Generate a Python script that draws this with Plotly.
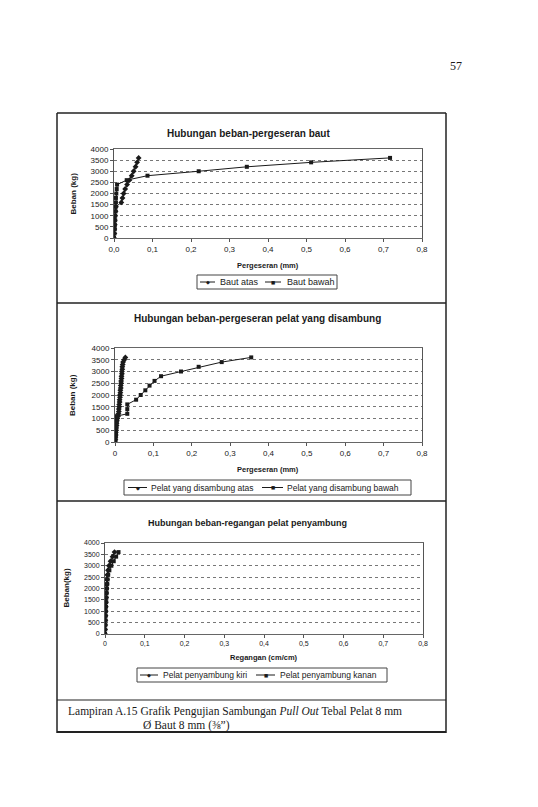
import plotly.graph_objects as go

# chart 1 : Hubungan beban-pergeseran baut
beban_baut = [0, 200, 400, 600, 800, 1000, 1200, 1400, 1600, 1800, 2000, 2200, 2400,
              2600, 2800, 3000, 3200, 3400, 3600]
baut_atas = [0, 0.001, 0.001, 0.002, 0.002, 0.003, 0.004, 0.005, 0.019, 0.022, 0.025,
             0.029, 0.034, 0.040, 0.046, 0.051, 0.056, 0.060, 0.064]
baut_bawah = [0, 0.001, 0.002, 0.002, 0.003, 0.003, 0.004, 0.004, 0.005, 0.005, 0.006,
              0.007, 0.008, 0.033, 0.087, 0.220, 0.345, 0.512, 0.717]

# chart 2 : Hubungan beban-pergeseran pelat yang disambung
beban_atas = [0, 100, 200, 300, 400, 500, 600, 700, 800, 900, 1000, 1100, 1200, 1300,
              1400, 1500, 1600, 1700, 1800, 1900, 2000, 2100, 2200, 2300, 2400, 2500,
              2600, 2700, 2800, 2900, 3000, 3100, 3200, 3300, 3400, 3500, 3600]
pelat_atas = [0, 0.001, 0.001, 0.002, 0.002, 0.003, 0.003, 0.004, 0.004, 0.005, 0.006,
              0.008, 0.009, 0.010, 0.010, 0.011, 0.011, 0.012, 0.012, 0.013, 0.013,
              0.014, 0.014, 0.015, 0.015, 0.016, 0.016, 0.017, 0.017, 0.018, 0.018,
              0.019, 0.019, 0.020, 0.021, 0.024, 0.027]
beban_bawah = [0, 100, 200, 300, 400, 500, 600, 700, 800, 900, 1000, 1100, 1200, 1400,
               1600, 1800, 2000, 2200, 2400, 2600, 2800, 3000, 3200, 3400, 3600]
pelat_bawah = [0, 0.001, 0.001, 0.002, 0.002, 0.002, 0.003, 0.003, 0.003, 0.004, 0.004,
               0.004, 0.032, 0.032, 0.032, 0.055, 0.067, 0.079, 0.090, 0.103, 0.120,
               0.172, 0.218, 0.278, 0.355]

# chart 3 : Hubungan beban-regangan pelat penyambung
beban_reg = [0, 200, 400, 600, 800, 1000, 1200, 1400, 1600, 1800, 2000, 2200, 2400,
             2600, 2800, 3000, 3200, 3400, 3600]
reg_kiri = [0, 0.0003, 0.0006, 0.001, 0.0013, 0.0017, 0.002, 0.0024, 0.0028, 0.0032,
            0.0037, 0.0043, 0.005, 0.006, 0.0075, 0.010, 0.014, 0.019, 0.024]
reg_kanan = [0, 0.0004, 0.0008, 0.0012, 0.0016, 0.002, 0.0025, 0.003, 0.0035, 0.004,
             0.0048, 0.0056, 0.0066, 0.008, 0.011, 0.016, 0.022, 0.028, 0.034]

x_vals = [0, 0.1, 0.2, 0.3, 0.4, 0.5, 0.6, 0.7, 0.8]
x_text1 = ["0,0", "0,1", "0,2", "0,3", "0,4", "0,5", "0,6", "0,7", "0,8"]
x_text2 = ["0", "0,1", "0,2", "0,3", "0,4", "0,5", "0,6", "0,7", "0,8"]
y_vals = [0, 500, 1000, 1500, 2000, 2500, 3000, 3500, 4000]

W, H = 538, 807
OFF = 8  # the page body adds an 8px margin around the figure
SANS = "Liberation Sans"
SERIF = "Liberation Serif"
INK = "#1a1a1a"


def px(x):
    return (x - OFF) / W


def py(y):
    return 1 - (y - OFF) / H


fig = go.Figure()

panels = [
    dict(xa=baut_atas, xb=baut_bawah, ya=beban_baut, yb=beban_baut,
         names=["Baut atas", "Baut bawah"], ticktext=x_text1, tick=8,
         box=(114, 422, 149, 238), title="Hubungan beban-pergeseran baut", tx=248, ty=133, ts=10,
         xtitle="Pergeseran (mm)", xtx=268, xty=265, ytitle="Beban (kg)", ytx=73,
         legbox=(197, 337, 275, 289), legitems=[(200, 215, 218), (265, 281, 285)], ls=9),
    dict(xa=pelat_atas, xb=pelat_bawah, ya=beban_atas, yb=beban_bawah,
         names=["Pelat yang disambung atas", "Pelat yang disambung bawah"], ticktext=x_text2, tick=8,
         box=(115, 422, 348, 442), title="Hubungan beban-pergeseran pelat yang disambung",
         tx=257, ty=318, ts=10,
         xtitle="Pergeseran (mm)", xtx=268, xty=469, ytitle="Beban (kg)", ytx=72,
         legbox=(124, 411, 480, 495), legitems=[(128, 147, 149), (262, 283, 285)], ls=8.5),
    dict(xa=reg_kiri, xb=reg_kanan, ya=beban_reg, yb=beban_reg,
         names=["Pelat penyambung kiri", "Pelat penyambung kanan"], ticktext=x_text2, tick=7,
         box=(105, 423, 543, 634), title="Hubungan beban-regangan pelat penyambung",
         tx=247, ty=523, ts=9,
         xtitle="Regangan (cm/cm)", xtx=264, xty=657, ytitle="Beban(kg)", ytx=66,
         legbox=(137, 387, 668, 682), legitems=[(140, 158, 161), (256, 275, 278)], ls=8.5),
]
symbols = ["diamond", "square"]
glyphs = ["◆", "■"]

annotations = []
shapes = []
layout_axes = {}
for i, p in enumerate(panels, start=1):
    xs = "" if i == 1 else str(i)
    fig.add_trace(go.Scatter(x=p["xa"], y=p["ya"], name=p["names"][0], mode="lines+markers",
                             xaxis="x" + xs, yaxis="y" + xs, showlegend=False,
                             line=dict(color=INK, width=1),
                             marker=dict(symbol=symbols[0], size=4.5, color=INK)))
    fig.add_trace(go.Scatter(x=p["xb"], y=p["yb"], name=p["names"][1], mode="lines+markers",
                             xaxis="x" + xs, yaxis="y" + xs, showlegend=False,
                             line=dict(color=INK, width=1),
                             marker=dict(symbol=symbols[1], size=4, color=INK)))
    x0, x1, y0, y1 = p["box"]
    layout_axes["xaxis" + xs] = dict(
        domain=[px(x0), px(x1)], range=[0, 0.8], anchor="y" + xs,
        tickvals=x_vals, ticktext=p["ticktext"], ticks="outside", ticklen=3,
        tickcolor="#555", showgrid=False, zeroline=False,
        showline=True, linecolor="#666", linewidth=1, mirror=True,
        tickfont=dict(family=SANS, size=p["tick"], color=INK))
    layout_axes["yaxis" + xs] = dict(
        domain=[py(y1), py(y0)], range=[0, 4000], anchor="x" + xs,
        tickvals=y_vals, ticks="outside", ticklen=3, tickcolor="#555",
        showgrid=True, gridcolor="#777", griddash="dot", gridwidth=0.6,
        zeroline=False, showline=True, linecolor="#555", linewidth=1, mirror=True,
        tickfont=dict(family=SANS, size=p["tick"], color=INK))
    annotations.append(dict(text="<b>%s</b>" % p["title"], x=px(p["tx"]), y=py(p["ty"]),
                            xanchor="center", yanchor="middle",
                            xref="paper", yref="paper", showarrow=False,
                            font=dict(family=SANS, size=p["ts"], color=INK)))
    annotations.append(dict(text="<b>%s</b>" % p["xtitle"], x=px(p["xtx"]), y=py(p["xty"]),
                            xanchor="center", yanchor="middle",
                            xref="paper", yref="paper", showarrow=False,
                            font=dict(family=SANS, size=7.5, color=INK)))
    annotations.append(dict(text="<b>%s</b>" % p["ytitle"], x=px(p["ytx"]), y=py((y0 + y1) / 2),
                            xanchor="center", yanchor="middle",
                            xref="paper", yref="paper", showarrow=False, textangle=-90,
                            font=dict(family=SANS, size=8, color=INK)))

    # legend box drawn by hand, Excel style
    lx0, lx1, ly0, ly1 = p["legbox"]
    shapes.append(dict(type="rect", xref="paper", yref="paper",
                       x0=px(lx0), x1=px(lx1), y0=py(ly1), y1=py(ly0),
                       line=dict(color="#444", width=1), fillcolor="white"))
    ym = (ly0 + ly1) / 2
    for k, (sx0, sx1, tx) in enumerate(p["legitems"]):
        shapes.append(dict(type="line", xref="paper", yref="paper",
                           x0=px(sx0), x1=px(sx1), y0=py(ym), y1=py(ym),
                           line=dict(color=INK, width=1)))
        annotations.append(dict(text=glyphs[k], x=px((sx0 + sx1) / 2), y=py(ym),
                                xanchor="center", yanchor="middle",
                                xref="paper", yref="paper", showarrow=False,
                                font=dict(family="DejaVu Sans", size=5 if k == 0 else 4.5, color=INK)))
        annotations.append(dict(text=p["names"][k], x=px(tx), y=py(ym),
                                xanchor="left", yanchor="middle",
                                xref="paper", yref="paper", showarrow=False,
                                font=dict(family=SANS, size=p["ls"], color=INK)))

# page number and caption
annotations.append(dict(text="57", x=px(456), y=py(66), xanchor="center", yanchor="middle",
                        xref="paper", yref="paper",
                        showarrow=False, font=dict(family=SERIF, size=12, color=INK)))
annotations.append(dict(text="Lampiran A.15 Grafik Pengujian Sambungan <i>Pull Out</i> Tebal Pelat 8 mm",
                        x=px(66), y=py(711), xanchor="left", yanchor="middle",
                        xref="paper", yref="paper",
                        showarrow=False, font=dict(family=SERIF, size=11.5, color=INK)))
annotations.append(dict(text="Ø Baut 8 mm (⅜”)",
                        x=px(141), y=py(725), xanchor="left", yanchor="middle",
                        xref="paper", yref="paper",
                        showarrow=False, font=dict(family=SERIF, size=11.5, color=INK)))

# page frame
frame = [(57, 113, 446, 113, 1.5), (57, 113, 57, 733, 1.5), (446, 113, 446, 733, 1.5),
         (57, 303, 446, 303, 1.5), (57, 501, 446, 501, 1.5), (57, 700, 446, 700, 1.2),
         (57, 732, 446, 732, 2.2)]
for ax0, ay0, ax1, ay1, lw in frame:
    shapes.append(dict(type="line", xref="paper", yref="paper",
                       x0=px(ax0), y0=py(ay0), x1=px(ax1), y1=py(ay1),
                       line=dict(color="#222", width=lw)))

fig.update_layout(
    width=W, height=H, margin=dict(l=0, r=0, t=0, b=0, pad=0, autoexpand=False),
    paper_bgcolor="white", plot_bgcolor="white", showlegend=False,
    annotations=annotations, shapes=shapes, **layout_axes)

fig.write_html("out.html")
